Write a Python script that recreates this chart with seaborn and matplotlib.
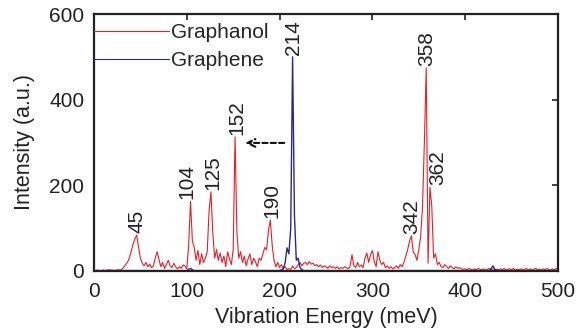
import matplotlib
matplotlib.use("Agg")
import matplotlib.pyplot as plt
import seaborn as sns
import numpy as np
import pandas as pd

# ---- data ----
red_x = list(range(0, 501, 2))
red_y = [
    2, 1, 2, 1, 1, 2, 1, 2, 3, 2,            # 0-18
    2, 1, 2, 3, 2, 4, 8, 15, 20, 30,         # 20-38
    45, 62, 75, 84, 55, 30, 18, 12, 20, 10,  # 40-58
    16, 8, 12, 30, 45, 28, 10, 20, 6, 15,    # 60-78
    25, 12, 8, 18, 10, 5, 10, 6, 14, 12,     # 80-98
    5, 60, 163, 70, 55, 25, 48, 15, 40, 20,  # 100-118
    30, 45, 140, 185, 90, 30, 50, 25, 42, 20,  # 120-138
    35, 10, 45, 28, 15, 50, 313, 90, 30, 45,   # 140-158
    20, 35, 12, 28, 40, 15, 30, 22, 10, 30,    # 160-178
    25, 40, 55, 50, 95, 119, 60, 25, 10, 20,   # 180-198
    8, 15, 5, 10, 3, 6, 3, 12, 5, 8,           # 200-218
    15, 20, 12, 18, 20, 15, 22, 16, 18, 12,    # 220-238
    15, 10, 14, 8, 12, 10, 6, 12, 8, 10,       # 240-258
    6, 10, 5, 8, 6, 10, 8, 5, 12, 38,          # 260-278
    12, 8, 20, 10, 14, 8, 30, 42, 20, 38,      # 280-298
    48, 22, 10, 45, 25, 15, 20, 8, 12, 6,      # 300-318
    10, 5, 8, 12, 6, 15, 10, 20, 35, 50,       # 320-338
    70, 82, 45, 38, 25, 50, 80, 150, 300, 474, # 340-358
    18, 196, 150, 30, 40, 15, 20, 10, 8, 15,   # 360-378
    10, 6, 12, 8, 5, 10, 6, 8, 5, 4,           # 380-398
    5, 3, 6, 4, 2, 5, 3, 6, 4, 3,              # 400-418
    5, 2, 4, 6, 3, 5, 2, 4, 3, 5,              # 420-438
    3, 6, 2, 4, 5, 3, 6, 2, 4, 3,              # 440-458
    5, 3, 4, 6, 2, 5, 3, 4, 6, 3,              # 460-478
    4, 2, 5, 3, 6, 4, 2, 5, 3, 6,              # 480-498
    4,                                         # 500
]

blue_x = [0, 100, 102, 104, 106, 108, 200, 204, 206, 208, 210, 212, 214,
          216, 218, 220, 222, 224, 226, 426, 428, 430, 432, 434, 500]
blue_y = [1, 1, 4, 6, 3, 1, 1, 5, 20, 54, 40, 100, 500,
          130, 25, 30, 8, 3, 1, 1, 6, 12, 4, 1, 1]

peak_labels = ["45", "104", "125", "152", "190", "214", "342", "358", "362"]
peak_label_x = [46, 100, 128, 154, 191.5, 214.5, 342, 358.5, 370.5]
peak_label_y = [88, 167, 189, 317, 123, 504, 86, 478, 200]

arrow_start = (208, 299)
arrow_end = (160, 299)

red_color = "#ec1c24"
blue_color = "#2a2a8e"

# ---- plot ----
sns.set_theme(style="white")
plt.rcParams["font.family"] = ["Liberation Sans", "DejaVu Sans"]

fig = plt.figure(figsize=(5.77, 3.35), dpi=100)
ax = fig.add_axes([94 / 577, 64 / 335, (558 - 94) / 577, (271 - 14) / 335])

df_red = pd.DataFrame({"x": red_x, "y": red_y})
df_blue = pd.DataFrame({"x": blue_x, "y": blue_y})
sns.lineplot(data=df_red, x="x", y="y", ax=ax, color=red_color, lw=0.8,
             label="Graphanol", estimator=None, sort=False)
sns.lineplot(data=df_blue, x="x", y="y", ax=ax, color=blue_color, lw=1.0,
             label="Graphene", estimator=None, sort=False)

for t, x, y in zip(peak_labels, peak_label_x, peak_label_y):
    ax.text(x, y, t, rotation=90, ha="center", va="bottom", fontsize=15,
            color="#222222")

ax.annotate("", xy=arrow_end, xytext=arrow_start,
            arrowprops=dict(arrowstyle="->", lw=1.5, ls=(0, (2.5, 1.5)),
                            color="#111111", mutation_scale=14))

ax.set_xlim(0, 500)
ax.set_ylim(0, 600)
ax.set_xticks([0, 100, 200, 300, 400, 500])
ax.set_yticks([0, 200, 400, 600])
ax.tick_params(direction="in", length=4, width=1.2, top=True, right=True,
               labelsize=15, colors="#222222")
ax.tick_params(axis="x", pad=8)
ax.tick_params(axis="y", pad=7)
for s in ax.spines.values():
    s.set_linewidth(1.6)
    s.set_color("#222222")
ax.set_xlabel("Vibration Energy (meV)", fontsize=15.5, color="#222222", labelpad=4)
ax.set_ylabel("Intensity (a.u.)", fontsize=15.5, color="#222222", labelpad=10)

leg = ax.legend(loc="upper left", bbox_to_anchor=(0.0, 1 - 9 / 257),
                frameon=False, fontsize=15, handlelength=3.6,
                handletextpad=0.1, labelspacing=0.45, borderpad=0,
                borderaxespad=0)
for h in leg.get_lines():
    h.set_linewidth(0.8)

fig.savefig("out.png", dpi=100)
